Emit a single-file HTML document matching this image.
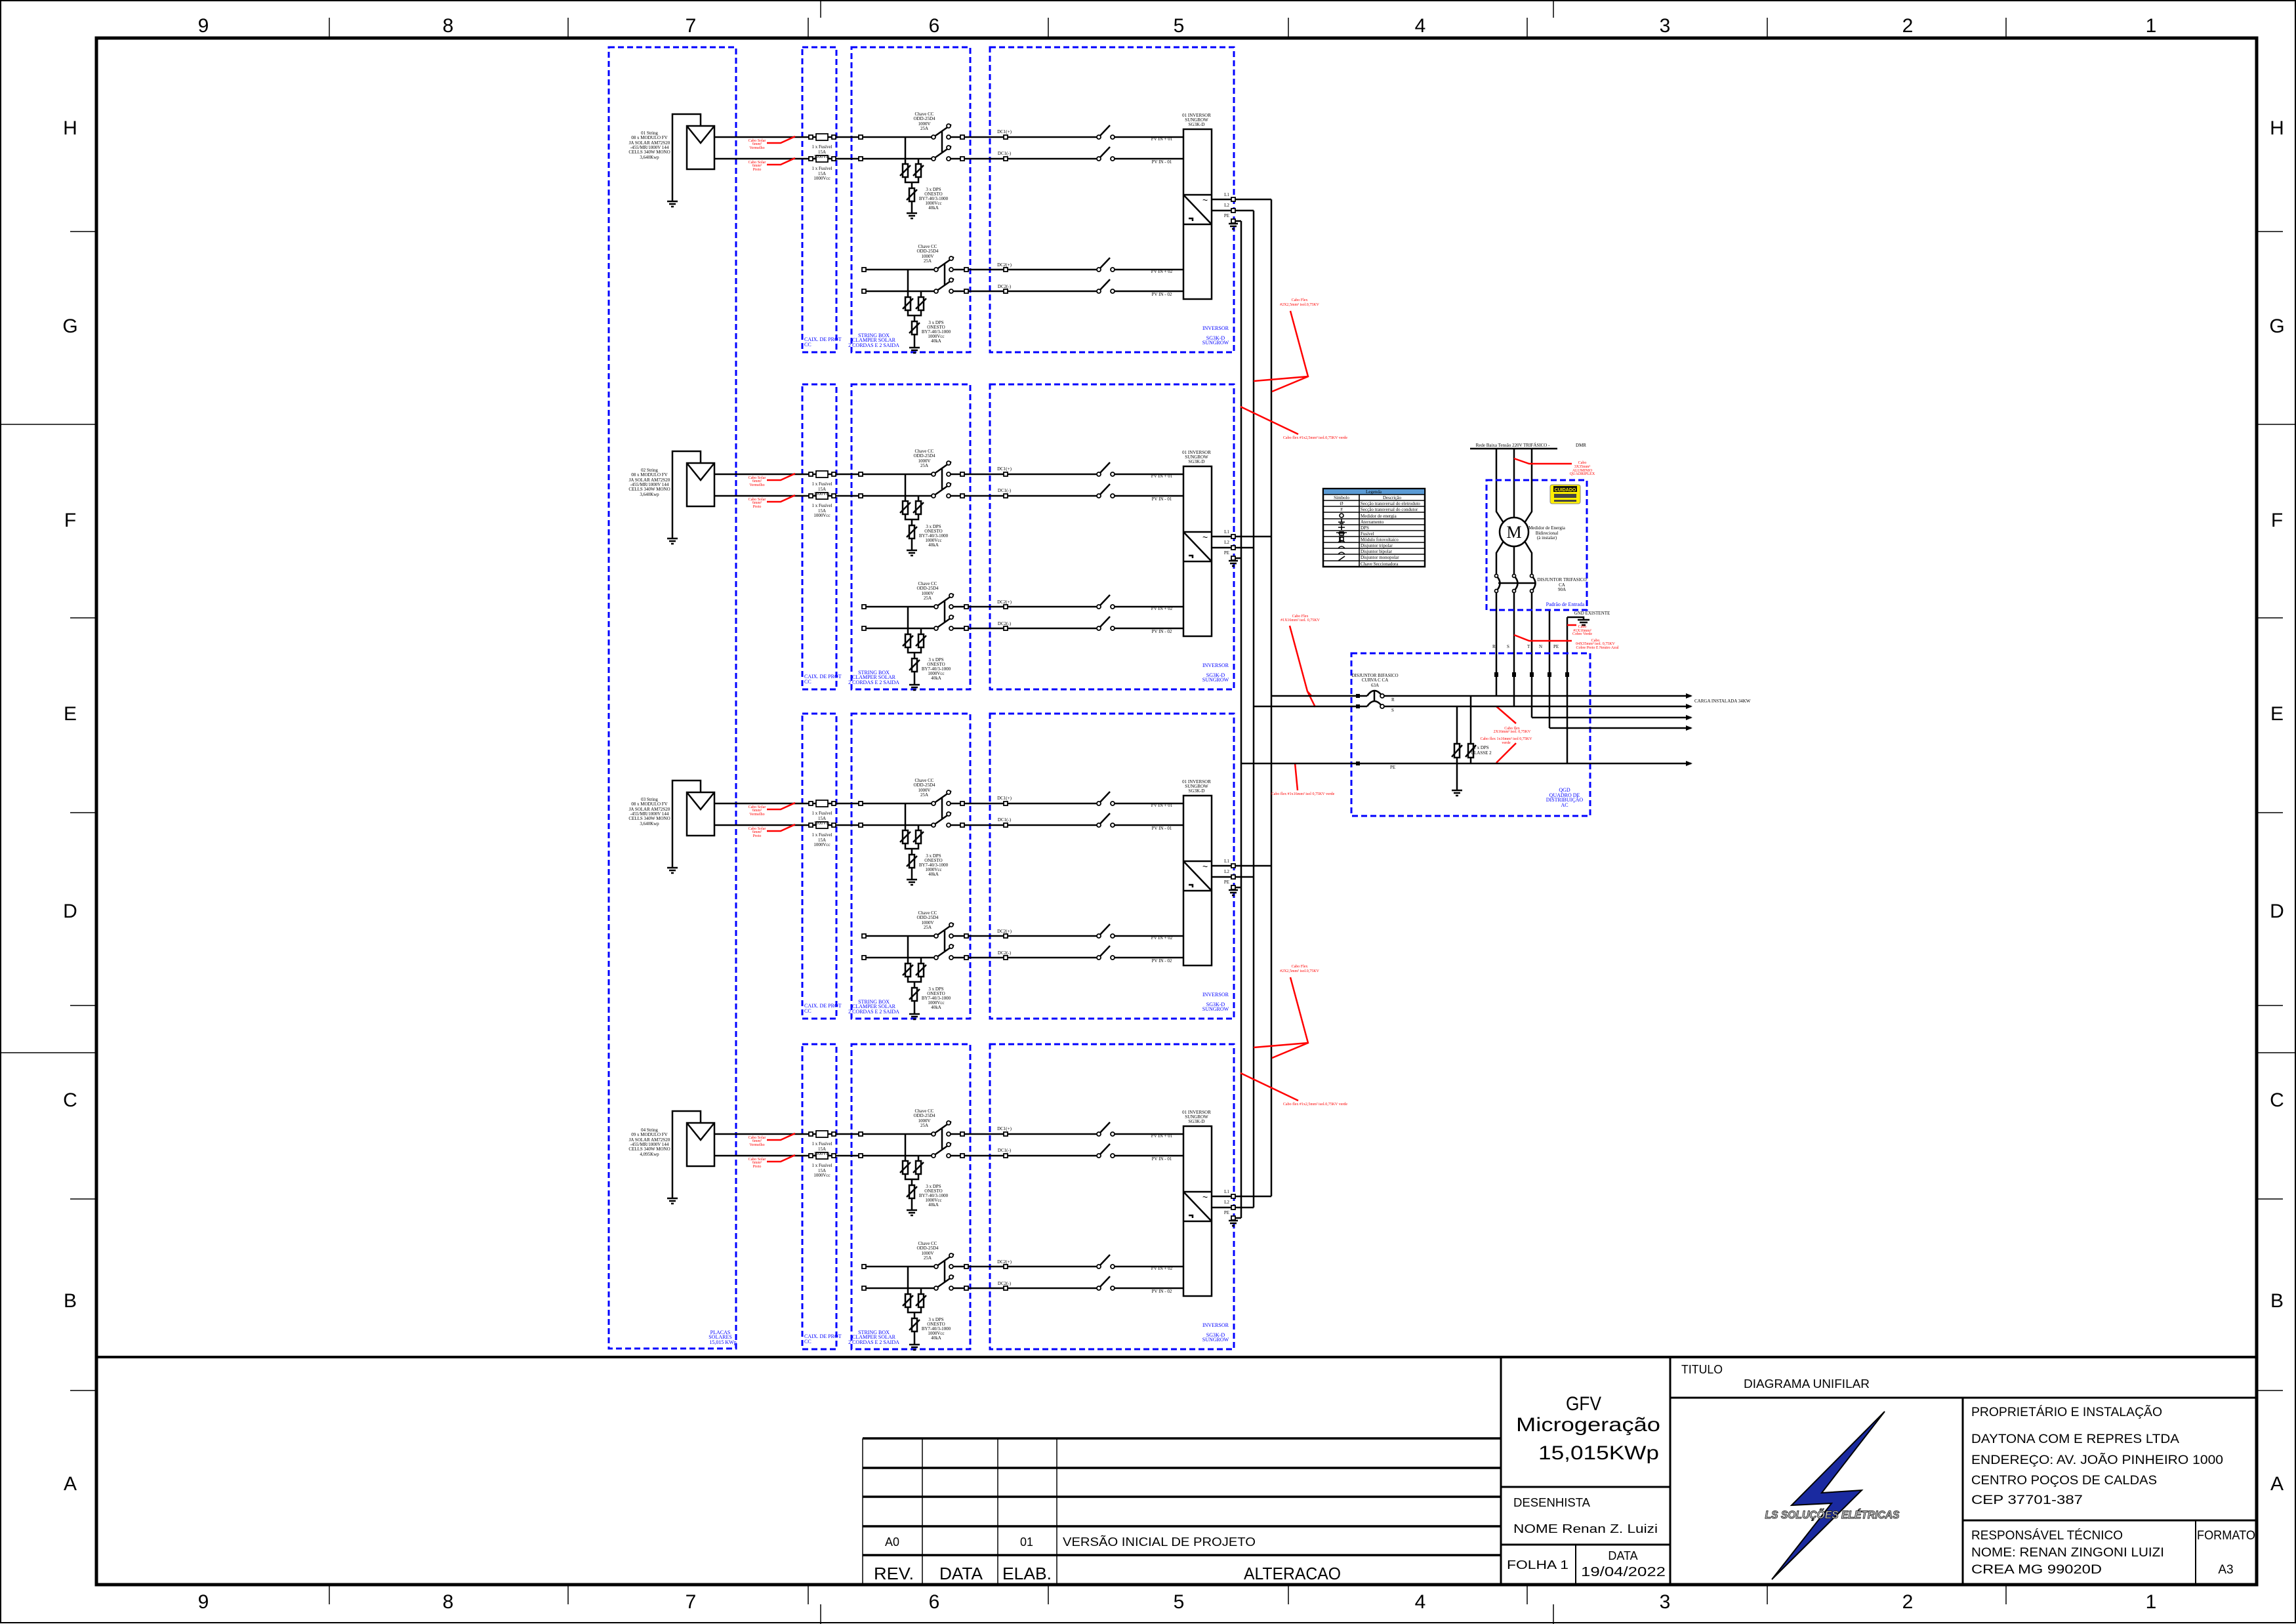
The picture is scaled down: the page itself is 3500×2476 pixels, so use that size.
<!DOCTYPE html>
<html><head><meta charset="utf-8">
<style>
html,body{margin:0;padding:0;background:#fff;}
svg{display:block}
.t{font-family:"Liberation Serif",serif;font-size:7px;fill:#000}
.r{font-family:"Liberation Serif",serif;font-size:6px;fill:#ff0000}
.b{font-family:"Liberation Serif",serif;font-size:8px;fill:#0000ff}
.s{font-family:"Liberation Sans",sans-serif;fill:#000}
.w{stroke:#000;stroke-width:2.5;fill:none}
.wt{stroke:#000;stroke-width:1.6;fill:none}
.red{stroke:#ff0000;stroke-width:2.5;fill:none}
.dash{stroke:#0000ff;stroke-width:3;fill:none;stroke-dasharray:9 5}
.sq{fill:#fff;stroke:#000;stroke-width:1.8}
</style></head><body>
<svg xmlns="http://www.w3.org/2000/svg" width="3500" height="2476" viewBox="0 0 3500 2476">
<rect x="0" y="0" width="3500" height="2476" fill="#fff"/>
<!-- outer border -->
<rect x="1" y="1" width="3498" height="2473" fill="none" stroke="#000" stroke-width="2"/>
<rect x="147" y="58" width="3293" height="2358" fill="none" stroke="#000" stroke-width="5"/>
<!-- rulers -->
<g stroke="#000" stroke-width="1.5">
<line x1="502" y1="27" x2="502" y2="58"/><line x1="866" y1="27" x2="866" y2="58"/><line x1="1232" y1="27" x2="1232" y2="58"/><line x1="1598" y1="27" x2="1598" y2="58"/><line x1="1964" y1="27" x2="1964" y2="58"/><line x1="2328" y1="27" x2="2328" y2="58"/><line x1="2694" y1="27" x2="2694" y2="58"/><line x1="3058" y1="27" x2="3058" y2="58"/>
<line x1="1251" y1="0" x2="1251" y2="27"/><line x1="2368" y1="0" x2="2368" y2="27"/>
<line x1="502" y1="2416" x2="502" y2="2446"/><line x1="866" y1="2416" x2="866" y2="2446"/><line x1="1232" y1="2416" x2="1232" y2="2446"/><line x1="1598" y1="2416" x2="1598" y2="2446"/><line x1="1964" y1="2416" x2="1964" y2="2446"/><line x1="2328" y1="2416" x2="2328" y2="2446"/><line x1="2694" y1="2416" x2="2694" y2="2446"/><line x1="3058" y1="2416" x2="3058" y2="2446"/>
<line x1="1251" y1="2446" x2="1251" y2="2476"/><line x1="2368" y1="2446" x2="2368" y2="2476"/>
<line x1="107" y1="353" x2="147" y2="353"/><line x1="0" y1="647" x2="147" y2="647"/><line x1="107" y1="942" x2="147" y2="942"/><line x1="107" y1="1239" x2="147" y2="1239"/><line x1="107" y1="1533" x2="147" y2="1533"/><line x1="0" y1="1605" x2="147" y2="1605"/><line x1="107" y1="1828" x2="147" y2="1828"/><line x1="107" y1="2120" x2="147" y2="2120"/>
<line x1="3440" y1="353" x2="3480" y2="353"/><line x1="3440" y1="647" x2="3500" y2="647"/><line x1="3440" y1="942" x2="3480" y2="942"/><line x1="3440" y1="1239" x2="3480" y2="1239"/><line x1="3440" y1="1533" x2="3480" y2="1533"/><line x1="3440" y1="1605" x2="3500" y2="1605"/><line x1="3440" y1="1828" x2="3480" y2="1828"/><line x1="3440" y1="2120" x2="3480" y2="2120"/>
</g>
<g class="s" font-size="30" text-anchor="middle">
<text x="310" y="49">9</text><text x="683" y="49">8</text><text x="1053" y="49">7</text><text x="1424" y="49">6</text><text x="1797" y="49">5</text><text x="2165" y="49">4</text><text x="2538" y="49">3</text><text x="2908" y="49">2</text><text x="3279" y="49">1</text>
<text x="310" y="2452">9</text><text x="683" y="2452">8</text><text x="1053" y="2452">7</text><text x="1424" y="2452">6</text><text x="1797" y="2452">5</text><text x="2165" y="2452">4</text><text x="2538" y="2452">3</text><text x="2908" y="2452">2</text><text x="3279" y="2452">1</text>
<text x="107" y="205">H</text><text x="107" y="507">G</text><text x="107" y="803">F</text><text x="107" y="1098">E</text><text x="107" y="1399">D</text><text x="107" y="1687">C</text><text x="107" y="1993">B</text><text x="107" y="2272">A</text>
<text x="3471" y="205">H</text><text x="3471" y="507">G</text><text x="3471" y="803">F</text><text x="3471" y="1098">E</text><text x="3471" y="1399">D</text><text x="3471" y="1687">C</text><text x="3471" y="1993">B</text><text x="3471" y="2272">A</text>
</g>

<!-- PV big box -->
<rect x="928" y="72" width="194" height="1984" class="dash"/>
<text class="b" x="1098" y="2034" text-anchor="middle">PLACAS</text>
<text class="b" x="1098" y="2041" text-anchor="middle">SOLARES</text>
<text class="b" x="1102" y="2049" text-anchor="middle">15,015 KWp</text>

<!-- BLOCK 1 -->
<g id="b1">
<rect x="1223" y="72" width="52" height="465" class="dash"/>
<rect x="1298" y="72" width="181" height="465" class="dash"/>
<rect x="1509" y="72" width="372" height="465" class="dash"/>
<rect x="1047" y="192" width="42" height="66" class="w"/>
<polyline points="1047,192 1068,218 1089,192" class="w"/>
<path d="M1068,192V174H1025V307M1017,307H1033M1020,311H1030M1023,315H1027" class="w"/>
<path d="M1089,209H1420M1449,209H1672M1699,209H1804M1089,242H1420M1449,242H1672M1699,242H1804" class="w"/>
<path d="M1423,209L1450,190M1423,242L1450,223M1436,200V232M1675,209L1692,191M1675,242L1692,224" class="w"/>
<g class="sq"><circle cx="1423" cy="209" r="3"/><circle cx="1446" cy="209" r="3"/><circle cx="1423" cy="242" r="3"/><circle cx="1446" cy="242" r="3"/><circle cx="1446" cy="192" r="3"/><circle cx="1446" cy="225" r="3"/><circle cx="1675" cy="209" r="3"/><circle cx="1696" cy="209" r="3"/><circle cx="1675" cy="242" r="3"/><circle cx="1696" cy="242" r="3"/>
<rect x="1244" y="204" width="18" height="10"/><rect x="1244" y="237" width="18" height="10"/>
<rect x="1233" y="206" width="6" height="6"/><rect x="1268" y="206" width="6" height="6"/><rect x="1309" y="206" width="6" height="6"/><rect x="1464" y="206" width="6" height="6"/><rect x="1530" y="206" width="6" height="6"/>
<rect x="1233" y="239" width="6" height="6"/><rect x="1268" y="239" width="6" height="6"/><rect x="1309" y="239" width="6" height="6"/><rect x="1464" y="239" width="6" height="6"/><rect x="1530" y="239" width="6" height="6"/></g>
<path d="M1169,218H1190L1212,208M1169,251H1190L1212,241" class="red"/>
<path d="M1380,209V250M1400,242V250M1380,270V278H1400V270M1390,278V287M1390,307V325M1382,325H1398M1385,329H1395M1388,333H1392M1372,268L1388,252M1392,268L1408,252M1382,305L1398,289" class="w"/>
<rect x="1376" y="250" width="8" height="20" class="w"/><rect x="1396" y="250" width="8" height="20" class="w"/><rect x="1386" y="287" width="8" height="20" class="w"/>
<path d="M1317,411H1424M1453,411H1672M1699,411H1804M1317,444H1424M1453,444H1672M1699,444H1804" class="w"/>
<path d="M1427,411L1454,392M1427,444L1454,425M1440,402V434M1675,411L1692,393M1675,444L1692,426" class="w"/>
<g class="sq"><circle cx="1427" cy="411" r="3"/><circle cx="1450" cy="411" r="3"/><circle cx="1427" cy="444" r="3"/><circle cx="1450" cy="444" r="3"/><circle cx="1450" cy="394" r="3"/><circle cx="1450" cy="427" r="3"/><circle cx="1675" cy="411" r="3"/><circle cx="1696" cy="411" r="3"/><circle cx="1675" cy="444" r="3"/><circle cx="1696" cy="444" r="3"/>
<rect x="1314" y="408" width="6" height="6"/><rect x="1470" y="408" width="6" height="6"/><rect x="1530" y="408" width="6" height="6"/><rect x="1314" y="441" width="6" height="6"/><rect x="1470" y="441" width="6" height="6"/><rect x="1530" y="441" width="6" height="6"/></g>
<path d="M1384,411V453M1404,444V453M1384,473V481H1404V473M1394,481V490M1394,510V530M1386,530H1402M1389,534H1399M1392,538H1396M1376,471L1392,455M1396,471L1412,455M1386,508L1402,492" class="w"/>
<rect x="1380" y="453" width="8" height="20" class="w"/><rect x="1400" y="453" width="8" height="20" class="w"/><rect x="1390" y="490" width="8" height="20" class="w"/>
<rect x="1804" y="197" width="43" height="259" class="w"/>
<path d="M1804,297H1847M1804,342H1847M1804,297L1847,342M1812,333H1818V337" class="w"/>
<text x="1833" y="310" font-family="Liberation Sans,sans-serif" font-size="14">~</text>
<path d="M1847,304H1938M1847,321H1911M1880,337H1892M1880,337V341M1873,341H1887M1875,345H1885M1878,349H1882" class="w"/>
<g class="sq"><rect x="1877" y="301" width="6" height="6"/><rect x="1877" y="318" width="6" height="6"/><rect x="1877" y="334" width="6" height="6"/></g>
<g class="t" text-anchor="middle">
<text x="990" y="205">01 String</text><text x="990" y="212">08 x MODULO FV</text><text x="990" y="220">JA SOLAR AM72S20</text><text x="990" y="227">-455/MR/1000V 144</text><text x="990" y="234">CELLS 340W MONO</text><text x="990" y="242">3,640Kwp</text>
<text x="1253" y="226">1 x Fusível</text><text x="1253" y="234">15A</text><text x="1253" y="241">1000Vcc</text>
<text x="1253" y="259">1 x Fusível</text><text x="1253" y="267">15A</text><text x="1253" y="274">1000Vcc</text>
<text x="1409" y="176">Chave CC</text><text x="1409" y="183">ODD-25D4</text><text x="1409" y="191">1000V</text><text x="1409" y="198">25A</text>
<text x="1423" y="291">3 x DPS</text><text x="1423" y="298">ONESTO</text><text x="1423" y="305">BY7-40/3-1000</text><text x="1423" y="312">1000Vcc</text><text x="1423" y="319">40kA</text>
<text x="1414" y="378">Chave CC</text><text x="1414" y="385">ODD-25D4</text><text x="1414" y="393">1000V</text><text x="1414" y="400">25A</text>
<text x="1427" y="494">3 x DPS</text><text x="1427" y="501">ONESTO</text><text x="1427" y="508">BY7-40/3-1000</text><text x="1427" y="515">1000Vcc</text><text x="1427" y="522">40kA</text>
<text x="1824" y="178">01 INVERSOR</text><text x="1824" y="185">SUNGROW</text><text x="1824" y="192">SG3K-D</text>
<text x="1531" y="203">DC1(+)</text><text x="1531" y="236">DC1(-)</text><text x="1531" y="406">DC2(+)</text><text x="1531" y="439">DC2(-)</text>
<text x="1771" y="214">PV IN + 01</text><text x="1771" y="249">PV IN - 01</text><text x="1771" y="416">PV IN + 02</text><text x="1771" y="451">PV IN - 02</text>
<text x="1870" y="299">L1</text><text x="1870" y="315">L2</text><text x="1870" y="331">PE</text>
</g>
<g class="r" text-anchor="middle"><text x="1154" y="216">Cabo Solar</text><text x="1154" y="221">6mm²</text><text x="1154" y="227">Vermelho</text><text x="1154" y="249">Cabo Solar</text><text x="1154" y="254">6mm²</text><text x="1154" y="260">Preto</text></g>
<g class="b"><text x="1226" y="520">CAIX. DE PROT</text><text x="1226" y="528">CC</text></g>
<g class="b" text-anchor="middle"><text x="1332" y="514">STRING BOX</text><text x="1332" y="521">CLAMPER SOLAR</text><text x="1332" y="529">2 CORDAS E 2 SAIDA</text><text x="1853" y="503">INVERSOR</text><text x="1853" y="518">SG3K-D</text><text x="1853" y="525">SUNGROW</text></g>
</g>

<!-- BLOCK 2 -->
<g transform="translate(0,514)">
<rect x="1223" y="72" width="52" height="465" class="dash"/>
<rect x="1298" y="72" width="181" height="465" class="dash"/>
<rect x="1509" y="72" width="372" height="465" class="dash"/>
<rect x="1047" y="192" width="42" height="66" class="w"/>
<polyline points="1047,192 1068,218 1089,192" class="w"/>
<path d="M1068,192V174H1025V307M1017,307H1033M1020,311H1030M1023,315H1027" class="w"/>
<path d="M1089,209H1420M1449,209H1672M1699,209H1804M1089,242H1420M1449,242H1672M1699,242H1804" class="w"/>
<path d="M1423,209L1450,190M1423,242L1450,223M1436,200V232M1675,209L1692,191M1675,242L1692,224" class="w"/>
<g class="sq"><circle cx="1423" cy="209" r="3"/><circle cx="1446" cy="209" r="3"/><circle cx="1423" cy="242" r="3"/><circle cx="1446" cy="242" r="3"/><circle cx="1446" cy="192" r="3"/><circle cx="1446" cy="225" r="3"/><circle cx="1675" cy="209" r="3"/><circle cx="1696" cy="209" r="3"/><circle cx="1675" cy="242" r="3"/><circle cx="1696" cy="242" r="3"/>
<rect x="1244" y="204" width="18" height="10"/><rect x="1244" y="237" width="18" height="10"/>
<rect x="1233" y="206" width="6" height="6"/><rect x="1268" y="206" width="6" height="6"/><rect x="1309" y="206" width="6" height="6"/><rect x="1464" y="206" width="6" height="6"/><rect x="1530" y="206" width="6" height="6"/>
<rect x="1233" y="239" width="6" height="6"/><rect x="1268" y="239" width="6" height="6"/><rect x="1309" y="239" width="6" height="6"/><rect x="1464" y="239" width="6" height="6"/><rect x="1530" y="239" width="6" height="6"/></g>
<path d="M1169,218H1190L1212,208M1169,251H1190L1212,241" class="red"/>
<path d="M1380,209V250M1400,242V250M1380,270V278H1400V270M1390,278V287M1390,307V325M1382,325H1398M1385,329H1395M1388,333H1392M1372,268L1388,252M1392,268L1408,252M1382,305L1398,289" class="w"/>
<rect x="1376" y="250" width="8" height="20" class="w"/><rect x="1396" y="250" width="8" height="20" class="w"/><rect x="1386" y="287" width="8" height="20" class="w"/>
<path d="M1317,411H1424M1453,411H1672M1699,411H1804M1317,444H1424M1453,444H1672M1699,444H1804" class="w"/>
<path d="M1427,411L1454,392M1427,444L1454,425M1440,402V434M1675,411L1692,393M1675,444L1692,426" class="w"/>
<g class="sq"><circle cx="1427" cy="411" r="3"/><circle cx="1450" cy="411" r="3"/><circle cx="1427" cy="444" r="3"/><circle cx="1450" cy="444" r="3"/><circle cx="1450" cy="394" r="3"/><circle cx="1450" cy="427" r="3"/><circle cx="1675" cy="411" r="3"/><circle cx="1696" cy="411" r="3"/><circle cx="1675" cy="444" r="3"/><circle cx="1696" cy="444" r="3"/>
<rect x="1314" y="408" width="6" height="6"/><rect x="1470" y="408" width="6" height="6"/><rect x="1530" y="408" width="6" height="6"/><rect x="1314" y="441" width="6" height="6"/><rect x="1470" y="441" width="6" height="6"/><rect x="1530" y="441" width="6" height="6"/></g>
<path d="M1384,411V453M1404,444V453M1384,473V481H1404V473M1394,481V490M1394,510V530M1386,530H1402M1389,534H1399M1392,538H1396M1376,471L1392,455M1396,471L1412,455M1386,508L1402,492" class="w"/>
<rect x="1380" y="453" width="8" height="20" class="w"/><rect x="1400" y="453" width="8" height="20" class="w"/><rect x="1390" y="490" width="8" height="20" class="w"/>
<rect x="1804" y="197" width="43" height="259" class="w"/>
<path d="M1804,297H1847M1804,342H1847M1804,297L1847,342M1812,333H1818V337" class="w"/>
<text x="1833" y="310" font-family="Liberation Sans,sans-serif" font-size="14">~</text>
<path d="M1847,304H1938M1847,321H1911M1880,337H1892M1880,337V341M1873,341H1887M1875,345H1885M1878,349H1882" class="w"/>
<g class="sq"><rect x="1877" y="301" width="6" height="6"/><rect x="1877" y="318" width="6" height="6"/><rect x="1877" y="334" width="6" height="6"/></g>
<g class="t" text-anchor="middle">
<text x="990" y="205">02 String</text><text x="990" y="212">08 x MODULO FV</text><text x="990" y="220">JA SOLAR AM72S20</text><text x="990" y="227">-455/MR/1000V 144</text><text x="990" y="234">CELLS 340W MONO</text><text x="990" y="242">3,640Kwp</text>
<text x="1253" y="226">1 x Fusível</text><text x="1253" y="234">15A</text><text x="1253" y="241">1000Vcc</text>
<text x="1253" y="259">1 x Fusível</text><text x="1253" y="267">15A</text><text x="1253" y="274">1000Vcc</text>
<text x="1409" y="176">Chave CC</text><text x="1409" y="183">ODD-25D4</text><text x="1409" y="191">1000V</text><text x="1409" y="198">25A</text>
<text x="1423" y="291">3 x DPS</text><text x="1423" y="298">ONESTO</text><text x="1423" y="305">BY7-40/3-1000</text><text x="1423" y="312">1000Vcc</text><text x="1423" y="319">40kA</text>
<text x="1414" y="378">Chave CC</text><text x="1414" y="385">ODD-25D4</text><text x="1414" y="393">1000V</text><text x="1414" y="400">25A</text>
<text x="1427" y="494">3 x DPS</text><text x="1427" y="501">ONESTO</text><text x="1427" y="508">BY7-40/3-1000</text><text x="1427" y="515">1000Vcc</text><text x="1427" y="522">40kA</text>
<text x="1824" y="178">01 INVERSOR</text><text x="1824" y="185">SUNGROW</text><text x="1824" y="192">SG3K-D</text>
<text x="1531" y="203">DC1(+)</text><text x="1531" y="236">DC1(-)</text><text x="1531" y="406">DC2(+)</text><text x="1531" y="439">DC2(-)</text>
<text x="1771" y="214">PV IN + 01</text><text x="1771" y="249">PV IN - 01</text><text x="1771" y="416">PV IN + 02</text><text x="1771" y="451">PV IN - 02</text>
<text x="1870" y="299">L1</text><text x="1870" y="315">L2</text><text x="1870" y="331">PE</text>
</g>
<g class="r" text-anchor="middle"><text x="1154" y="216">Cabo Solar</text><text x="1154" y="221">6mm²</text><text x="1154" y="227">Vermelho</text><text x="1154" y="249">Cabo Solar</text><text x="1154" y="254">6mm²</text><text x="1154" y="260">Preto</text></g>
<g class="b"><text x="1226" y="520">CAIX. DE PROT</text><text x="1226" y="528">CC</text></g>
<g class="b" text-anchor="middle"><text x="1332" y="514">STRING BOX</text><text x="1332" y="521">CLAMPER SOLAR</text><text x="1332" y="529">2 CORDAS E 2 SAIDA</text><text x="1853" y="503">INVERSOR</text><text x="1853" y="518">SG3K-D</text><text x="1853" y="525">SUNGROW</text></g>
</g>

<!-- BLOCK 3 -->
<g transform="translate(0,1016)">
<rect x="1223" y="72" width="52" height="465" class="dash"/>
<rect x="1298" y="72" width="181" height="465" class="dash"/>
<rect x="1509" y="72" width="372" height="465" class="dash"/>
<rect x="1047" y="192" width="42" height="66" class="w"/>
<polyline points="1047,192 1068,218 1089,192" class="w"/>
<path d="M1068,192V174H1025V307M1017,307H1033M1020,311H1030M1023,315H1027" class="w"/>
<path d="M1089,209H1420M1449,209H1672M1699,209H1804M1089,242H1420M1449,242H1672M1699,242H1804" class="w"/>
<path d="M1423,209L1450,190M1423,242L1450,223M1436,200V232M1675,209L1692,191M1675,242L1692,224" class="w"/>
<g class="sq"><circle cx="1423" cy="209" r="3"/><circle cx="1446" cy="209" r="3"/><circle cx="1423" cy="242" r="3"/><circle cx="1446" cy="242" r="3"/><circle cx="1446" cy="192" r="3"/><circle cx="1446" cy="225" r="3"/><circle cx="1675" cy="209" r="3"/><circle cx="1696" cy="209" r="3"/><circle cx="1675" cy="242" r="3"/><circle cx="1696" cy="242" r="3"/>
<rect x="1244" y="204" width="18" height="10"/><rect x="1244" y="237" width="18" height="10"/>
<rect x="1233" y="206" width="6" height="6"/><rect x="1268" y="206" width="6" height="6"/><rect x="1309" y="206" width="6" height="6"/><rect x="1464" y="206" width="6" height="6"/><rect x="1530" y="206" width="6" height="6"/>
<rect x="1233" y="239" width="6" height="6"/><rect x="1268" y="239" width="6" height="6"/><rect x="1309" y="239" width="6" height="6"/><rect x="1464" y="239" width="6" height="6"/><rect x="1530" y="239" width="6" height="6"/></g>
<path d="M1169,218H1190L1212,208M1169,251H1190L1212,241" class="red"/>
<path d="M1380,209V250M1400,242V250M1380,270V278H1400V270M1390,278V287M1390,307V325M1382,325H1398M1385,329H1395M1388,333H1392M1372,268L1388,252M1392,268L1408,252M1382,305L1398,289" class="w"/>
<rect x="1376" y="250" width="8" height="20" class="w"/><rect x="1396" y="250" width="8" height="20" class="w"/><rect x="1386" y="287" width="8" height="20" class="w"/>
<path d="M1317,411H1424M1453,411H1672M1699,411H1804M1317,444H1424M1453,444H1672M1699,444H1804" class="w"/>
<path d="M1427,411L1454,392M1427,444L1454,425M1440,402V434M1675,411L1692,393M1675,444L1692,426" class="w"/>
<g class="sq"><circle cx="1427" cy="411" r="3"/><circle cx="1450" cy="411" r="3"/><circle cx="1427" cy="444" r="3"/><circle cx="1450" cy="444" r="3"/><circle cx="1450" cy="394" r="3"/><circle cx="1450" cy="427" r="3"/><circle cx="1675" cy="411" r="3"/><circle cx="1696" cy="411" r="3"/><circle cx="1675" cy="444" r="3"/><circle cx="1696" cy="444" r="3"/>
<rect x="1314" y="408" width="6" height="6"/><rect x="1470" y="408" width="6" height="6"/><rect x="1530" y="408" width="6" height="6"/><rect x="1314" y="441" width="6" height="6"/><rect x="1470" y="441" width="6" height="6"/><rect x="1530" y="441" width="6" height="6"/></g>
<path d="M1384,411V453M1404,444V453M1384,473V481H1404V473M1394,481V490M1394,510V530M1386,530H1402M1389,534H1399M1392,538H1396M1376,471L1392,455M1396,471L1412,455M1386,508L1402,492" class="w"/>
<rect x="1380" y="453" width="8" height="20" class="w"/><rect x="1400" y="453" width="8" height="20" class="w"/><rect x="1390" y="490" width="8" height="20" class="w"/>
<rect x="1804" y="197" width="43" height="259" class="w"/>
<path d="M1804,297H1847M1804,342H1847M1804,297L1847,342M1812,333H1818V337" class="w"/>
<text x="1833" y="310" font-family="Liberation Sans,sans-serif" font-size="14">~</text>
<path d="M1847,304H1938M1847,321H1911M1880,337H1892M1880,337V341M1873,341H1887M1875,345H1885M1878,349H1882" class="w"/>
<g class="sq"><rect x="1877" y="301" width="6" height="6"/><rect x="1877" y="318" width="6" height="6"/><rect x="1877" y="334" width="6" height="6"/></g>
<g class="t" text-anchor="middle">
<text x="990" y="205">03 String</text><text x="990" y="212">08 x MODULO FV</text><text x="990" y="220">JA SOLAR AM72S20</text><text x="990" y="227">-455/MR/1000V 144</text><text x="990" y="234">CELLS 340W MONO</text><text x="990" y="242">3,640Kwp</text>
<text x="1253" y="226">1 x Fusível</text><text x="1253" y="234">15A</text><text x="1253" y="241">1000Vcc</text>
<text x="1253" y="259">1 x Fusível</text><text x="1253" y="267">15A</text><text x="1253" y="274">1000Vcc</text>
<text x="1409" y="176">Chave CC</text><text x="1409" y="183">ODD-25D4</text><text x="1409" y="191">1000V</text><text x="1409" y="198">25A</text>
<text x="1423" y="291">3 x DPS</text><text x="1423" y="298">ONESTO</text><text x="1423" y="305">BY7-40/3-1000</text><text x="1423" y="312">1000Vcc</text><text x="1423" y="319">40kA</text>
<text x="1414" y="378">Chave CC</text><text x="1414" y="385">ODD-25D4</text><text x="1414" y="393">1000V</text><text x="1414" y="400">25A</text>
<text x="1427" y="494">3 x DPS</text><text x="1427" y="501">ONESTO</text><text x="1427" y="508">BY7-40/3-1000</text><text x="1427" y="515">1000Vcc</text><text x="1427" y="522">40kA</text>
<text x="1824" y="178">01 INVERSOR</text><text x="1824" y="185">SUNGROW</text><text x="1824" y="192">SG3K-D</text>
<text x="1531" y="203">DC1(+)</text><text x="1531" y="236">DC1(-)</text><text x="1531" y="406">DC2(+)</text><text x="1531" y="439">DC2(-)</text>
<text x="1771" y="214">PV IN + 01</text><text x="1771" y="249">PV IN - 01</text><text x="1771" y="416">PV IN + 02</text><text x="1771" y="451">PV IN - 02</text>
<text x="1870" y="299">L1</text><text x="1870" y="315">L2</text><text x="1870" y="331">PE</text>
</g>
<g class="r" text-anchor="middle"><text x="1154" y="216">Cabo Solar</text><text x="1154" y="221">6mm²</text><text x="1154" y="227">Vermelho</text><text x="1154" y="249">Cabo Solar</text><text x="1154" y="254">6mm²</text><text x="1154" y="260">Preto</text></g>
<g class="b"><text x="1226" y="520">CAIX. DE PROT</text><text x="1226" y="528">CC</text></g>
<g class="b" text-anchor="middle"><text x="1332" y="514">STRING BOX</text><text x="1332" y="521">CLAMPER SOLAR</text><text x="1332" y="529">2 CORDAS E 2 SAIDA</text><text x="1853" y="503">INVERSOR</text><text x="1853" y="518">SG3K-D</text><text x="1853" y="525">SUNGROW</text></g>
</g>

<!-- BLOCK 4 -->
<g transform="translate(0,1520)">
<rect x="1223" y="72" width="52" height="465" class="dash"/>
<rect x="1298" y="72" width="181" height="465" class="dash"/>
<rect x="1509" y="72" width="372" height="465" class="dash"/>
<rect x="1047" y="192" width="42" height="66" class="w"/>
<polyline points="1047,192 1068,218 1089,192" class="w"/>
<path d="M1068,192V174H1025V307M1017,307H1033M1020,311H1030M1023,315H1027" class="w"/>
<path d="M1089,209H1420M1449,209H1672M1699,209H1804M1089,242H1420M1449,242H1672M1699,242H1804" class="w"/>
<path d="M1423,209L1450,190M1423,242L1450,223M1436,200V232M1675,209L1692,191M1675,242L1692,224" class="w"/>
<g class="sq"><circle cx="1423" cy="209" r="3"/><circle cx="1446" cy="209" r="3"/><circle cx="1423" cy="242" r="3"/><circle cx="1446" cy="242" r="3"/><circle cx="1446" cy="192" r="3"/><circle cx="1446" cy="225" r="3"/><circle cx="1675" cy="209" r="3"/><circle cx="1696" cy="209" r="3"/><circle cx="1675" cy="242" r="3"/><circle cx="1696" cy="242" r="3"/>
<rect x="1244" y="204" width="18" height="10"/><rect x="1244" y="237" width="18" height="10"/>
<rect x="1233" y="206" width="6" height="6"/><rect x="1268" y="206" width="6" height="6"/><rect x="1309" y="206" width="6" height="6"/><rect x="1464" y="206" width="6" height="6"/><rect x="1530" y="206" width="6" height="6"/>
<rect x="1233" y="239" width="6" height="6"/><rect x="1268" y="239" width="6" height="6"/><rect x="1309" y="239" width="6" height="6"/><rect x="1464" y="239" width="6" height="6"/><rect x="1530" y="239" width="6" height="6"/></g>
<path d="M1169,218H1190L1212,208M1169,251H1190L1212,241" class="red"/>
<path d="M1380,209V250M1400,242V250M1380,270V278H1400V270M1390,278V287M1390,307V325M1382,325H1398M1385,329H1395M1388,333H1392M1372,268L1388,252M1392,268L1408,252M1382,305L1398,289" class="w"/>
<rect x="1376" y="250" width="8" height="20" class="w"/><rect x="1396" y="250" width="8" height="20" class="w"/><rect x="1386" y="287" width="8" height="20" class="w"/>
<path d="M1317,411H1424M1453,411H1672M1699,411H1804M1317,444H1424M1453,444H1672M1699,444H1804" class="w"/>
<path d="M1427,411L1454,392M1427,444L1454,425M1440,402V434M1675,411L1692,393M1675,444L1692,426" class="w"/>
<g class="sq"><circle cx="1427" cy="411" r="3"/><circle cx="1450" cy="411" r="3"/><circle cx="1427" cy="444" r="3"/><circle cx="1450" cy="444" r="3"/><circle cx="1450" cy="394" r="3"/><circle cx="1450" cy="427" r="3"/><circle cx="1675" cy="411" r="3"/><circle cx="1696" cy="411" r="3"/><circle cx="1675" cy="444" r="3"/><circle cx="1696" cy="444" r="3"/>
<rect x="1314" y="408" width="6" height="6"/><rect x="1470" y="408" width="6" height="6"/><rect x="1530" y="408" width="6" height="6"/><rect x="1314" y="441" width="6" height="6"/><rect x="1470" y="441" width="6" height="6"/><rect x="1530" y="441" width="6" height="6"/></g>
<path d="M1384,411V453M1404,444V453M1384,473V481H1404V473M1394,481V490M1394,510V530M1386,530H1402M1389,534H1399M1392,538H1396M1376,471L1392,455M1396,471L1412,455M1386,508L1402,492" class="w"/>
<rect x="1380" y="453" width="8" height="20" class="w"/><rect x="1400" y="453" width="8" height="20" class="w"/><rect x="1390" y="490" width="8" height="20" class="w"/>
<rect x="1804" y="197" width="43" height="259" class="w"/>
<path d="M1804,297H1847M1804,342H1847M1804,297L1847,342M1812,333H1818V337" class="w"/>
<text x="1833" y="310" font-family="Liberation Sans,sans-serif" font-size="14">~</text>
<path d="M1847,304H1938M1847,321H1911M1880,337H1892M1880,337V341M1873,341H1887M1875,345H1885M1878,349H1882" class="w"/>
<g class="sq"><rect x="1877" y="301" width="6" height="6"/><rect x="1877" y="318" width="6" height="6"/><rect x="1877" y="334" width="6" height="6"/></g>
<g class="t" text-anchor="middle">
<text x="990" y="205">04 String</text><text x="990" y="212">09 x MODULO FV</text><text x="990" y="220">JA SOLAR AM72S20</text><text x="990" y="227">-455/MR/1000V 144</text><text x="990" y="234">CELLS 340W MONO</text><text x="990" y="242">4,095Kwp</text>
<text x="1253" y="226">1 x Fusível</text><text x="1253" y="234">15A</text><text x="1253" y="241">1000Vcc</text>
<text x="1253" y="259">1 x Fusível</text><text x="1253" y="267">15A</text><text x="1253" y="274">1000Vcc</text>
<text x="1409" y="176">Chave CC</text><text x="1409" y="183">ODD-25D4</text><text x="1409" y="191">1000V</text><text x="1409" y="198">25A</text>
<text x="1423" y="291">3 x DPS</text><text x="1423" y="298">ONESTO</text><text x="1423" y="305">BY7-40/3-1000</text><text x="1423" y="312">1000Vcc</text><text x="1423" y="319">40kA</text>
<text x="1414" y="378">Chave CC</text><text x="1414" y="385">ODD-25D4</text><text x="1414" y="393">1000V</text><text x="1414" y="400">25A</text>
<text x="1427" y="494">3 x DPS</text><text x="1427" y="501">ONESTO</text><text x="1427" y="508">BY7-40/3-1000</text><text x="1427" y="515">1000Vcc</text><text x="1427" y="522">40kA</text>
<text x="1824" y="178">01 INVERSOR</text><text x="1824" y="185">SUNGROW</text><text x="1824" y="192">SG3K-D</text>
<text x="1531" y="203">DC1(+)</text><text x="1531" y="236">DC1(-)</text><text x="1531" y="406">DC2(+)</text><text x="1531" y="439">DC2(-)</text>
<text x="1771" y="214">PV IN + 01</text><text x="1771" y="249">PV IN - 01</text><text x="1771" y="416">PV IN + 02</text><text x="1771" y="451">PV IN - 02</text>
<text x="1870" y="299">L1</text><text x="1870" y="315">L2</text><text x="1870" y="331">PE</text>
</g>
<g class="r" text-anchor="middle"><text x="1154" y="216">Cabo Solar</text><text x="1154" y="221">6mm²</text><text x="1154" y="227">Vermelho</text><text x="1154" y="249">Cabo Solar</text><text x="1154" y="254">6mm²</text><text x="1154" y="260">Preto</text></g>
<g class="b"><text x="1226" y="520">CAIX. DE PROT</text><text x="1226" y="528">CC</text></g>
<g class="b" text-anchor="middle"><text x="1332" y="514">STRING BOX</text><text x="1332" y="521">CLAMPER SOLAR</text><text x="1332" y="529">2 CORDAS E 2 SAIDA</text><text x="1853" y="503">INVERSOR</text><text x="1853" y="518">SG3K-D</text><text x="1853" y="525">SUNGROW</text></g>
</g>

<!-- AC bus -->
<path d="M1938,304V1824M1911,321V1841M1892,337V1857" class="w"/>
<!-- red cable markers between blocks -->
<path d="M1911,581L1994,574M1939,597L1994,574L1967,474M1891,620L1979,662" class="red"/>
<path d="M1911,1597L1994,1590M1939,1613L1994,1590L1967,1490M1891,1636L1979,1678" class="red"/>
<g class="r" text-anchor="middle">
<text x="1981" y="459">Cabo Flex</text><text x="1981" y="466">#2X2,5mm² isol.0,75KV</text><text x="2005" y="669">Cabo flex #1x2,5mm² isol.0,75KV  verde</text>
<text x="1981" y="1475">Cabo Flex</text><text x="1981" y="1482">#2X2,5mm² isol.0,75KV</text><text x="2005" y="1685">Cabo flex #1x2,5mm² isol.0,75KV  verde</text>
<text x="1982" y="941">Cabo Flex</text><text x="1982" y="947">#1X16mm² isol. 0,75KV</text>
<text x="1986" y="1212">Cabo flex #1x16mm² isol 0,75KV  verde</text>
</g>
<path d="M1966,954L1993,1054L2005,1078M1993,1054L1999,1061M1974,1163L1978,1205" class="red"/>

<!-- Legend -->
<g>
<rect x="2017" y="745" width="155" height="119" fill="#fff" stroke="#000" stroke-width="2.5"/>
<rect x="2018" y="746" width="153" height="8" fill="#5b9bd5"/>
<g stroke="#000" stroke-width="1.6">
<line x1="2017" y1="754" x2="2172" y2="754"/><line x1="2017" y1="763" x2="2172" y2="763"/><line x1="2017" y1="772" x2="2172" y2="772"/><line x1="2017" y1="781" x2="2172" y2="781"/><line x1="2017" y1="791" x2="2172" y2="791"/><line x1="2017" y1="800" x2="2172" y2="800"/><line x1="2017" y1="809" x2="2172" y2="809"/><line x1="2017" y1="818" x2="2172" y2="818"/><line x1="2017" y1="827" x2="2172" y2="827"/><line x1="2017" y1="836" x2="2172" y2="836"/><line x1="2017" y1="845" x2="2172" y2="845"/><line x1="2017" y1="855" x2="2172" y2="855"/>
<line x1="2072" y1="754" x2="2072" y2="864"/>
</g>
<g class="t" font-size="6"><text x="2094" y="752" text-anchor="middle">Legenda</text>
<text x="2045" y="761" text-anchor="middle">Símbolo</text><text x="2122" y="761" text-anchor="middle">Descrição</text>
<text x="2045" y="770" text-anchor="middle">Ø</text><text x="2074" y="770">Secção transversal do eletroduto</text>
<text x="2045" y="779" text-anchor="middle">#</text><text x="2074" y="779">Secção transversal do condutor</text>
<text x="2074" y="789">Medidor de energia</text><text x="2074" y="798">Aterramento</text><text x="2074" y="807">DPS</text><text x="2074" y="816">Fusível</text><text x="2074" y="825">Módulo fotovoltaico</text><text x="2074" y="834">Disjuntor tripolar</text><text x="2074" y="843">Disjuntor bipolar</text><text x="2074" y="852">Disjuntor monopolar</text><text x="2074" y="862">Chave Seccionadora</text></g>
<g class="wt"><circle cx="2045" cy="786" r="3"/><path d="M2045,791V796M2040,796H2050M2042,798H2048M2044,800H2046M2045,801V808M2040,804H2050M2037,812H2053M2040,813H2050M2043,818V827M2040,827Q2045,821 2050,827M2040,836Q2045,830 2050,836M2040,845Q2045,839 2050,845M2040,855L2050,848"/><rect x="2042" y="811" width="6" height="5"/><rect x="2042" y="819" width="6" height="6"/></g>
</g>

<!-- Rede / Padrao -->
<path d="M2241,684H2374" class="w"/>
<path d="M2281,684V780L2292,797M2335,684V780L2324,797M2308,684V789M2308,833V878M2292,825L2281,843V878M2324,825L2335,843V878M2281,901V1061M2308,901V1077M2335,901V1094M2362,930V1110M2389,941V1164M2389,941H2414V945M2405,945H2423M2408,949H2420M2411,953H2417" class="w"/>
<ellipse cx="2308" cy="811" rx="22" ry="22" fill="#fff" stroke="#000" stroke-width="2.5"/>
<text x="2308" y="820" text-anchor="middle" font-family="Liberation Serif,serif" font-size="26">M</text>
<path d="M2281,878Q2292,889 2281,901M2308,878Q2319,889 2308,901M2335,878Q2346,889 2335,901M2284,889H2341" class="w"/>
<g class="sq"><circle cx="2281" cy="878" r="2.5"/><circle cx="2308" cy="878" r="2.5"/><circle cx="2335" cy="878" r="2.5"/><circle cx="2281" cy="901" r="2.5"/><circle cx="2308" cy="901" r="2.5"/><circle cx="2335" cy="901" r="2.5"/></g>
<rect x="2266" y="732" width="153" height="198" class="dash"/>
<rect x="2363" y="739" width="46" height="29" rx="3" fill="#ffee00" stroke="#888" stroke-width="1"/>
<rect x="2368" y="741" width="36" height="9" fill="#111"/>
<text x="2386" y="749" text-anchor="middle" font-family="Liberation Sans,sans-serif" font-size="7" font-weight="bold" fill="#ffee00">CUIDADO</text>
<rect x="2369" y="753" width="34" height="6" fill="#444"/><rect x="2369" y="762" width="34" height="3" fill="#444"/>
<path d="M2308,699L2331,707H2396M2308,968L2331,977H2396M2389,953H2403M2281,1077L2311,1103M2281,1163L2311,1133" class="red"/>
<g class="t">
<text x="2306" y="681" text-anchor="middle">Rede Baixa Tensão 220V TRIFÁSICO -</text><text x="2410" y="681" text-anchor="middle">DMR</text>
<text x="2358" y="807" text-anchor="middle">Medidor de Energia</text><text x="2358" y="815" text-anchor="middle">Bidirecional</text><text x="2358" y="822" text-anchor="middle">(à instalar)</text>
<text x="2381" y="886" text-anchor="middle">DISJUNTOR TRIFASICO</text><text x="2381" y="894" text-anchor="middle">CA</text><text x="2381" y="901" text-anchor="middle">90A</text>
<text x="2427" y="937" text-anchor="middle">GND EXISTENTE</text>
<text x="2275" y="988">R</text><text x="2297" y="988">S</text><text x="2328" y="988">T</text><text x="2346" y="988">N</text><text x="2368" y="988">PE</text>
<text x="2096" y="1032" text-anchor="middle">DISJUNTOR BIFASICO</text><text x="2096" y="1039" text-anchor="middle">CURVA C CA</text><text x="2096" y="1047" text-anchor="middle">63A</text>
<text x="2121" y="1069">R</text><text x="2121" y="1085">S</text><text x="2119" y="1172">PE</text>
<text x="2258" y="1142" text-anchor="middle">2 x DPS</text><text x="2258" y="1150" text-anchor="middle">CLASSE 2</text>
<text x="2583" y="1071">CARGA INSTALADA 34KW</text>
</g>
<g class="r" text-anchor="middle">
<text x="2412" y="707">Cabo</text><text x="2412" y="713">3X35mm²</text><text x="2412" y="719">ALUMINIO</text><text x="2412" y="724">QUADRIPLEX</text>
<text x="2412" y="957">Cabo</text><text x="2412" y="963">#1X16mm²</text><text x="2412" y="968">Cobre Verde</text>
<text x="2432" y="978">Cabo</text><text x="2432" y="983">04X35mm² isol. 0,75KV</text><text x="2435" y="989">Cobre Preto E Neutro Azul</text>
<text x="2305" y="1112">Cabo flex</text><text x="2305" y="1117">2X16mm² isol. 0,75KV</text>
<text x="2296" y="1128">Cabo flex 1x16mm² isol 0,75KV</text><text x="2296" y="1134">verde</text>
</g>
<g class="b" text-anchor="middle"><text x="2386" y="924">Padrão de Entrada</text>
<text x="2385" y="1207">QGD</text><text x="2385" y="1215">QUADRO DE</text><text x="2385" y="1222">DISTRIBUIÇÃO</text><text x="2385" y="1230">AC</text></g>

<!-- QGD -->
<rect x="2060" y="996" width="364" height="248" class="dash"/>
<path d="M1938,1061H2084M2107,1061H2578M1911,1077H2084M2107,1077H2578M2335,1094H2578M2362,1110H2578M1892,1164H2578" class="w"/>
<path d="M2084,1061Q2095,1045 2107,1061M2084,1077Q2095,1061 2107,1077M2095,1053V1069" class="w"/>
<g class="sq"><circle cx="2107" cy="1061" r="3"/><circle cx="2107" cy="1077" r="3"/></g>
<g fill="#000"><rect x="2067" y="1058" width="6" height="6"/><rect x="2067" y="1074" width="6" height="6"/><rect x="2067" y="1161" width="6" height="6"/>
<rect x="2278" y="1025" width="6" height="7"/><rect x="2305" y="1025" width="6" height="7"/><rect x="2332" y="1025" width="6" height="7"/><rect x="2359" y="1025" width="6" height="7"/><rect x="2386" y="1025" width="6" height="7"/>
<polygon points="2570,1057 2580,1061 2570,1065"/><polygon points="2570,1073 2580,1077 2570,1081"/><polygon points="2570,1090 2580,1094 2570,1098"/><polygon points="2570,1106 2580,1110 2570,1114"/><polygon points="2570,1160 2580,1164 2570,1168"/></g>
<path d="M2221,1077V1134M2242,1061V1134M2221,1155V1205M2242,1155V1164M2213,1205H2229M2216,1209H2226M2219,1213H2223M2213,1154L2229,1136M2234,1154L2250,1136" class="w"/>
<rect x="2217" y="1134" width="8" height="21" class="w"/><rect x="2238" y="1134" width="8" height="21" class="w"/>

<!-- Title block -->
<g stroke="#000" fill="none">
<line x1="147" y1="2069" x2="3440" y2="2069" stroke-width="4"/>
<line x1="2288" y1="2069" x2="2288" y2="2416" stroke-width="3"/>
<line x1="2546" y1="2069" x2="2546" y2="2416" stroke-width="3"/>
<line x1="2546" y1="2131" x2="3440" y2="2131" stroke-width="3"/>
<line x1="2992" y1="2131" x2="2992" y2="2416" stroke-width="3"/>
<line x1="2992" y1="2318" x2="3440" y2="2318" stroke-width="3"/>
<line x1="3347" y1="2318" x2="3347" y2="2416" stroke-width="2"/>
<line x1="2288" y1="2267" x2="2546" y2="2267" stroke-width="3"/>
<line x1="2288" y1="2355" x2="2546" y2="2355" stroke-width="3"/>
<line x1="2402" y1="2355" x2="2402" y2="2416" stroke-width="2"/>
<line x1="1315" y1="2193" x2="2288" y2="2193" stroke-width="3.5"/>
<line x1="1315" y1="2238" x2="2288" y2="2238" stroke-width="3.5"/>
<line x1="1315" y1="2282" x2="2288" y2="2282" stroke-width="3.5"/>
<line x1="1315" y1="2327" x2="2288" y2="2327" stroke-width="3.5"/>
<line x1="1315" y1="2371" x2="2288" y2="2371" stroke-width="3.5"/>
<line x1="1315" y1="2193" x2="1315" y2="2416" stroke-width="1.5"/>
<line x1="1406" y1="2193" x2="1406" y2="2416" stroke-width="1.5"/>
<line x1="1521" y1="2193" x2="1521" y2="2416" stroke-width="1.5"/>
<line x1="1611" y1="2193" x2="1611" y2="2416" stroke-width="1.5"/>
</g>
<g class="s">
<text x="2414" y="2150" font-size="30" text-anchor="middle" textLength="54" lengthAdjust="spacingAndGlyphs">GFV</text>
<text x="2311" y="2182" font-size="30" textLength="220" lengthAdjust="spacingAndGlyphs">Microgeração</text>
<text x="2345" y="2225" font-size="30" textLength="184" lengthAdjust="spacingAndGlyphs">15,015KWp</text>
<text x="2307" y="2297" font-size="18" textLength="117" lengthAdjust="spacingAndGlyphs">DESENHISTA</text>
<text x="2307" y="2337" font-size="18" textLength="220" lengthAdjust="spacingAndGlyphs">NOME Renan Z. Luizi</text>
<text x="2297" y="2392" font-size="18" textLength="94" lengthAdjust="spacingAndGlyphs">FOLHA  1</text>
<text x="2474" y="2378" font-size="18" text-anchor="middle">DATA</text>
<text x="2410" y="2403" font-size="20" textLength="129" lengthAdjust="spacingAndGlyphs">19/04/2022</text>
<text x="2563" y="2094" font-size="18" textLength="63" lengthAdjust="spacingAndGlyphs">TITULO</text>
<text x="2658" y="2116" font-size="18" textLength="192" lengthAdjust="spacingAndGlyphs">DIAGRAMA  UNIFILAR</text>
<text x="3005" y="2159" font-size="19" textLength="291" lengthAdjust="spacingAndGlyphs">PROPRIETÁRIO  E  INSTALAÇÃO</text>
<text x="3005" y="2200" font-size="19" textLength="317" lengthAdjust="spacingAndGlyphs">DAYTONA  COM  E  REPRES  LTDA</text>
<text x="3005" y="2232" font-size="19" textLength="384" lengthAdjust="spacingAndGlyphs">ENDEREÇO:  AV.  JOÃO  PINHEIRO  1000</text>
<text x="3005" y="2263" font-size="19" textLength="283" lengthAdjust="spacingAndGlyphs">CENTRO  POÇOS  DE  CALDAS</text>
<text x="3005" y="2293" font-size="19" textLength="170" lengthAdjust="spacingAndGlyphs">CEP  37701-387</text>
<text x="3005" y="2347" font-size="19" textLength="231" lengthAdjust="spacingAndGlyphs">RESPONSÁVEL  TÉCNICO</text>
<text x="3005" y="2373" font-size="19" textLength="294" lengthAdjust="spacingAndGlyphs">NOME:  RENAN  ZINGONI  LUIZI</text>
<text x="3005" y="2399" font-size="19" textLength="199" lengthAdjust="spacingAndGlyphs">CREA    MG  99020D</text>
<text x="3349" y="2347" font-size="19" textLength="89" lengthAdjust="spacingAndGlyphs">FORMATO</text>
<text x="3393" y="2399" font-size="19" text-anchor="middle">A3</text>
<text x="1360" y="2357" font-size="18" text-anchor="middle">A0</text>
<text x="1565" y="2357" font-size="18" text-anchor="middle">01</text>
<text x="1620" y="2357" font-size="18" textLength="294" lengthAdjust="spacingAndGlyphs">VERSÃO  INICIAL  DE  PROJETO</text>
<text x="1332" y="2408" font-size="26" textLength="61" lengthAdjust="spacingAndGlyphs">REV.</text>
<text x="1432" y="2408" font-size="26" textLength="66" lengthAdjust="spacingAndGlyphs">DATA</text>
<text x="1528" y="2408" font-size="26" textLength="75" lengthAdjust="spacingAndGlyphs">ELAB.</text>
<text x="1896" y="2408" font-size="26" textLength="148" lengthAdjust="spacingAndGlyphs">ALTERACAO</text>
</g>
<!-- logo -->
<polygon points="2873,2152 2731,2295 2792,2292 2701,2408 2838,2272 2777,2276" fill="#1a2aa0" stroke="#000" stroke-width="2"/>
<text x="2793" y="2315" text-anchor="middle" font-family="Liberation Sans,sans-serif" font-size="17" font-style="italic" font-weight="bold" fill="#ddd" stroke="#222" stroke-width="1" textLength="205" lengthAdjust="spacingAndGlyphs">LS SOLUÇÕES ELÉTRICAS</text>
</svg>
</body></html>
